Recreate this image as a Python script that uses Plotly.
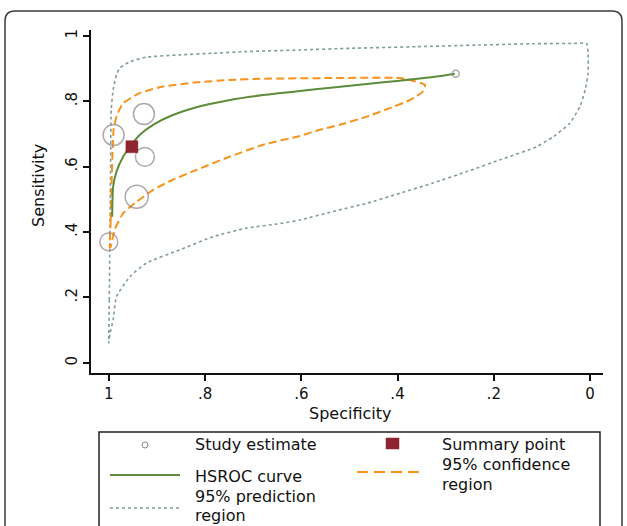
import plotly.graph_objects as go

# ---------------- data ----------------
study_spec = [0.927, 0.990, 0.925, 0.942, 1.000, 0.279]
study_sens = [0.761, 0.697, 0.630, 0.508, 0.370, 0.884]
study_weight = [44, 44, 36, 53, 32, 5]

summary_spec = [0.952]
summary_sens = [0.661]

hsroc_spec = [0.993, 0.991, 0.984, 0.970, 0.956, 0.936, 0.908, 0.867, 0.818,
              0.748, 0.679, 0.607, 0.534, 0.464, 0.395, 0.326, 0.281]
hsroc_sens = [0.447, 0.539, 0.585, 0.631, 0.661, 0.697, 0.728, 0.758, 0.782,
              0.804, 0.819, 0.831, 0.842, 0.853, 0.863, 0.874, 0.884]

conf_spec = [0.998, 0.996, 0.994, 0.992, 0.990, 0.983, 0.970, 0.936, 0.887,
             0.818, 0.748, 0.679, 0.541, 0.395, 0.374, 0.343, 0.347, 0.374,
             0.416, 0.464, 0.520, 0.561, 0.603, 0.679, 0.748, 0.818, 0.867,
             0.908, 0.942, 0.970, 0.988, 0.996, 0.998]
conf_sens = [0.352, 0.437, 0.560, 0.651, 0.713, 0.758, 0.794, 0.825, 0.845,
             0.858, 0.865, 0.869, 0.871, 0.871, 0.865, 0.850, 0.830, 0.804,
             0.779, 0.753, 0.728, 0.713, 0.694, 0.667, 0.631, 0.590, 0.560,
             0.529, 0.493, 0.458, 0.407, 0.356, 0.352]

pred_spec = [1.000, 0.999, 0.998, 0.997, 0.996, 0.995, 0.991, 0.984, 0.977,
             0.956, 0.922, 0.852, 0.783, 0.714, 0.603, 0.499, 0.360, 0.229,
             0.118, 0.027, 0.007, 0.004, 0.004, 0.010, 0.021, 0.042, 0.076,
             0.111, 0.187, 0.256, 0.326, 0.395, 0.464, 0.534, 0.603, 0.644,
             0.714, 0.783, 0.852, 0.922, 0.956, 0.984, 0.991, 0.998, 1.000]
pred_sens = [0.061, 0.193, 0.346, 0.498, 0.651, 0.774, 0.835, 0.881, 0.902,
             0.921, 0.935, 0.942, 0.947, 0.952, 0.957, 0.962, 0.967, 0.972,
             0.976, 0.977, 0.977, 0.947, 0.886, 0.835, 0.784, 0.733, 0.692,
             0.661, 0.621, 0.585, 0.550, 0.519, 0.488, 0.463, 0.437, 0.426,
             0.412, 0.386, 0.346, 0.305, 0.264, 0.203, 0.131, 0.086, 0.061]

tick_vals = [0, 0.2, 0.4, 0.6, 0.8, 1]
tick_text = ["0", ".2", ".4", ".6", ".8", "1"]

legend_labels = ["Study estimate", "Summary point", "HSROC curve",
                 "95% confidence", "region", "95% prediction", "region"]

# ---------------- styling ----------------
W, H = 627, 526
FONT = "DejaVu Sans"
GREEN = "#5e8c3a"
ORANGE = "#f7941e"
PGREY = "#7f9c9a"
CGREY = "#8c8489"
RED = "#8e2430"


def px(x, y):
    return x / W, 1 - y / H


fig = go.Figure()

fig.add_trace(go.Scatter(x=pred_spec, y=pred_sens, mode="lines",
                         line=dict(color=PGREY, width=1.6, dash="3px,3px",
                                   shape="spline", smoothing=0.5),
                         showlegend=False, hoverinfo="skip"))
fig.add_trace(go.Scatter(x=conf_spec, y=conf_sens, mode="lines",
                         line=dict(color=ORANGE, width=2, dash="8px,4px",
                                   shape="spline", smoothing=0.5),
                         showlegend=False, hoverinfo="skip"))
fig.add_trace(go.Scatter(x=hsroc_spec, y=hsroc_sens, mode="lines",
                         line=dict(color=GREEN, width=2, shape="spline",
                                   smoothing=0.6),
                         showlegend=False, hoverinfo="skip"))
fig.add_trace(go.Scatter(x=study_spec, y=study_sens, mode="markers",
                         marker=dict(symbol="circle-open",
                                     size=[3.16 * w ** 0.5 for w in study_weight],
                                     color=CGREY, line=dict(width=1.5, color=CGREY)),
                         showlegend=False))
fig.add_trace(go.Scatter(x=summary_spec, y=summary_sens, mode="markers",
                         marker=dict(symbol="square", size=12, color=RED,
                                     line=dict(width=0.5, color=RED)),
                         showlegend=False))

shapes = []
# outer rounded frame
x0, y0, x1, y1, r = 5, 11, 622, 560, 10
pts = {k: px(*v) for k, v in {
    "a": (x0, y1), "b": (x0, y0 + r), "c": (x0, y0), "d": (x0 + r, y0),
    "e": (x1 - r, y0), "f": (x1, y0), "g": (x1, y0 + r), "h": (x1, y1)}.items()}
path = ("M {a[0]},{a[1]} L {b[0]},{b[1]} Q {c[0]},{c[1]} {d[0]},{d[1]} "
        "L {e[0]},{e[1]} Q {f[0]},{f[1]} {g[0]},{g[1]} L {h[0]},{h[1]}").format(**pts)
shapes.append(dict(type="path", xref="paper", yref="paper", path=path,
                   line=dict(color="#3a3a3a", width=1.5)))
# legend box
lx0, ly0 = px(99, 432)
lx1, ly1 = px(600, 560)
shapes.append(dict(type="rect", xref="paper", yref="paper", x0=lx0, y0=ly1,
                   x1=lx1, y1=ly0, line=dict(color="#222", width=1.5)))
# legend glyphs
cx0, cy0 = px(142, 442)
cx1, cy1 = px(148, 448)
shapes.append(dict(type="circle", xref="paper", yref="paper", x0=cx0, y0=cy1,
                   x1=cx1, y1=cy0, line=dict(color=CGREY, width=1)))
sx0, sy0 = px(386, 438)
sx1, sy1 = px(399, 449)
shapes.append(dict(type="rect", xref="paper", yref="paper", x0=sx0, y0=sy1,
                   x1=sx1, y1=sy0, fillcolor=RED, line=dict(color=RED, width=0.5)))
gx0, gy = px(110, 475)
gx1, _ = px(180, 475)
shapes.append(dict(type="line", xref="paper", yref="paper", x0=gx0, y0=gy,
                   x1=gx1, y1=gy, line=dict(color=GREEN, width=1.8)))
ox0, oy = px(357, 472)
ox1, _ = px(424, 472)
shapes.append(dict(type="line", xref="paper", yref="paper", x0=ox0, y0=oy,
                   x1=ox1, y1=oy, line=dict(color=ORANGE, width=2, dash="11px,6px")))
dx0, dy = px(110, 508)
dx1, _ = px(180, 508)
shapes.append(dict(type="line", xref="paper", yref="paper", x0=dx0, y0=dy,
                   x1=dx1, y1=dy, line=dict(color=PGREY, width=1.5, dash="3px,3px")))

annotations = []


def text(t, x, y, size=16, anchor="left", angle=0):
    ax, ay = px(x, y)
    annotations.append(dict(text=t, x=ax, y=ay, xref="paper", yref="paper",
                            xanchor=anchor, yanchor="middle", showarrow=False,
                            textangle=angle,
                            font=dict(family=FONT, size=size, color="#111")))


text(legend_labels[0], 193, 444)
text(legend_labels[1], 440, 444)
text(legend_labels[2], 193, 476)
text(legend_labels[3], 440, 464.5)
text(legend_labels[4], 440, 484)
text(legend_labels[5], 193, 496)
text(legend_labels[6], 193, 515.5)
text("Specificity", 350, 413, size=16, anchor="center")
text("Sensitivity", 38, 186, size=16, anchor="center", angle=-90)

axis_common = dict(showgrid=False, zeroline=False, showline=True, linecolor="#111",
                   linewidth=1.5, ticks="outside", ticklen=6, tickwidth=1.5,
                   tickcolor="#111", tickvals=tick_vals, ticktext=tick_text,
                   tickfont=dict(family=FONT, size=15, color="#111"))

fig.update_layout(
    width=W, height=H, autosize=False,
    margin=dict(l=0, r=0, t=0, b=0),
    paper_bgcolor="white", plot_bgcolor="white",
    xaxis=dict(domain=[91 / W, 603 / W], range=[1.037, -0.027], **axis_common),
    yaxis=dict(domain=[1 - 373 / H, 1 - 30 / H], range=[-0.031, 1.018],
               tickangle=-90, **axis_common),
    shapes=shapes, annotations=annotations,
)

fig.write_html("out.html")
